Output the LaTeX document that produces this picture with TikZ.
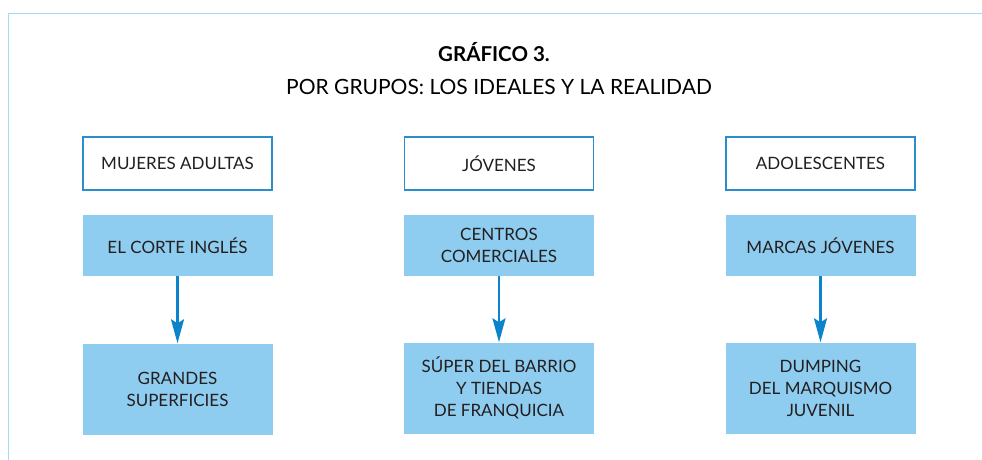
\documentclass[tikz,border=0pt]{standalone}
\usepackage{fontspec}
\setmainfont{Lato}
\usetikzlibrary{arrows.meta}
\definecolor{framecol}{HTML}{A0DCF5}
\definecolor{edgecol}{HTML}{2B8DCC}
\definecolor{fillcol}{HTML}{8FCDF0}
\definecolor{arrowcol}{HTML}{0C84CC}
\definecolor{inkcol}{HTML}{231F20}
\tikzset{
  groupbox/.style={draw=edgecol, line width=1.2pt, fill=white, minimum width=189pt, minimum height=53pt, inner sep=0pt},
  placebox/.style={fill=fillcol, minimum width=190pt, minimum height=61pt, inner sep=0pt, align=center},
  endbox/.style={fill=fillcol, minimum width=190pt, minimum height=91pt, inner sep=0pt, align=center},
  flow/.style={draw=arrowcol, line width=2.6pt, -{Stealth[length=24pt, width=13pt, inset=4pt]}}
}
\begin{document}
\begin{tikzpicture}[x=1pt, y=-1pt, font=\fontsize{17}{22}\selectfont\color{inkcol}]
		%%%%% FRAME %%%%%
		\useasboundingbox (0, 0) rectangle (982, 459);
		\draw[framecol, line width=1.6pt] (8.5, 470) -- (8.5, 13.5) -- (990, 13.5);
		
		%%%%% TITLE %%%%%
		\node[font=\fontsize{20.5}{24}\selectfont\bfseries] (title) at (494, 52) {GRÁFICO 3.};
		\node[font=\fontsize{21}{24}\selectfont] (subtitle) at (499, 87) {POR GRUPOS: LOS IDEALES Y LA REALIDAD};
		
		%%%%% GROUPS %%%%%
		\node[groupbox] (mujeres) at (177.5, 163.5) {MUJERES ADULTAS};
		\node[groupbox] (jovenes) at (499, 163.5) {JÓVENES};
		\node[groupbox] (adolesc) at (820.5, 163.5) {ADOLESCENTES};
		
		%%%%% IDEALS %%%%%
		\node[placebox] (corte) at (177.5, 245.5) {EL CORTE INGLÉS};
		\node[placebox] (centros) at (499, 245.5) {CENTROS\\COMERCIALES};
		\node[placebox] (marcas) at (820.5, 245.5) {MARCAS JÓVENES};
		
		%%%%% REALITY %%%%%
		\node[endbox] (grandes) at (177.5, 389) {GRANDES\\SUPERFICIES};
		\node[endbox] (super) at (499, 388) {SÚPER DEL BARRIO\\Y TIENDAS\\DE FRANQUICIA};
		\node[endbox] (dumping) at (820.5, 388) {DUMPING\\DEL MARQUISMO\\JUVENIL};
		
		\draw[flow] (corte) -- (grandes);
		\draw[flow] (centros) -- (super);
		\draw[flow] (marcas) -- (dumping);
		
		%%%%% END %%%%%
	\end{tikzpicture}
\end{document}
